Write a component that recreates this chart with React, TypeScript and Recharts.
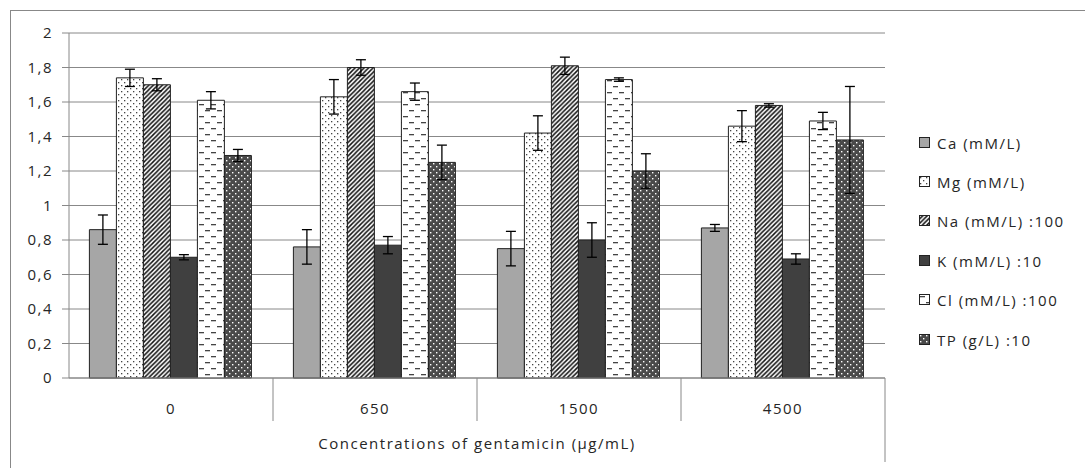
import { BarChart, Bar, XAxis, YAxis, CartesianGrid, ErrorBar } from 'recharts';

const CATEGORIES = ['0', '650', '1500', '4500'];

const CA = [0.86, 0.76, 0.75, 0.87];
const CA_ERR = [0.085, 0.1, 0.1, 0.02];
const MG = [1.74, 1.63, 1.42, 1.46];
const MG_ERR = [0.05, 0.1, 0.1, 0.09];
const NA = [1.7, 1.8, 1.81, 1.58];
const NA_ERR = [0.035, 0.045, 0.05, 0.01];
const K = [0.7, 0.77, 0.8, 0.69];
const K_ERR = [0.015, 0.05, 0.1, 0.03];
const CL = [1.61, 1.66, 1.73, 1.49];
const CL_ERR = [0.05, 0.05, 0.01, 0.05];
const TP = [1.29, 1.25, 1.2, 1.38];
const TP_ERR = [0.035, 0.1, 0.1, 0.31];

const Y_TICKS = [0, 0.2, 0.4, 0.6, 0.8, 1, 1.2, 1.4, 1.6, 1.8, 2];

const SERIES = [
  { key: 'ca', name: 'Ca (mM/L)', fill: '#a6a6a6' },
  { key: 'mg', name: 'Mg (mM/L)', fill: 'url(#pMg)' },
  { key: 'na', name: 'Na (mM/L) :100', fill: 'url(#pNa)' },
  { key: 'k', name: 'K (mM/L) :10', fill: '#404040' },
  { key: 'cl', name: 'Cl (mM/L) :100', fill: 'url(#pCl)' },
  { key: 'tp', name: 'TP (g/L) :10', fill: 'url(#pTp)' },
];

const data = CATEGORIES.map((c, i) => ({
  name: c,
  ca: CA[i], caErr: CA_ERR[i],
  mg: MG[i], mgErr: MG_ERR[i],
  na: NA[i], naErr: NA_ERR[i],
  k: K[i], kErr: K_ERR[i],
  cl: CL[i], clErr: CL_ERR[i],
  tp: TP[i], tpErr: TP_ERR[i],
}));

const FONT = '"Open Sans", sans-serif';
const FS = 15;
const LS = 1.5;
const TEXT = '#262626';
const GRID = '#888888';

// plot geometry
const W = 1085;
const H = 468;
const LEFT = 69;
const RIGHT = 885;
const TOP = 33;
const BOTTOM = 378;
const HALF_BAND = (RIGHT - LEFT) / CATEGORIES.length / 2;

function CategoryTick(props: any) {
  const { x, payload, index } = props;
  const last = index === CATEGORIES.length - 1;
  return (
    <g>
      {index > 0 && (
        <line x1={x - HALF_BAND} x2={x - HALF_BAND} y1={BOTTOM} y2={BOTTOM + 43} stroke={GRID} />
      )}
      {last && (
        <line x1={x + HALF_BAND} x2={x + HALF_BAND} y1={BOTTOM} y2={BOTTOM + 84} stroke={GRID} />
      )}
      <text
        x={x}
        y={BOTTOM + 36}
        textAnchor="middle"
        fontSize={FS}
        letterSpacing={LS}
        fill={TEXT}
        fontFamily={FONT}
      >
        {payload.value}
      </text>
    </g>
  );
}

function PatternLegend() {
  return (
    <div
      style={{
        position: 'absolute', left: 919, top: 123,
        fontFamily: FONT, fontSize: FS, letterSpacing: LS, color: TEXT,
      }}
    >
      {SERIES.map((s) => (
        <div key={s.key} style={{ display: 'flex', alignItems: 'center', height: 39.4 }}>
          <svg width={12} height={12} style={{ marginRight: 6 }}>
            <rect x={0.5} y={0.5} width={10} height={10} fill={s.fill} stroke="#222" />
          </svg>
          <span>{s.name}</span>
        </div>
      ))}
    </div>
  );
}

export default function App() {
  return (
    <div style={{ position: 'absolute', left: 0, top: 0, width: W, height: H, overflow: 'hidden', background: '#fff' }}>
      <div
        style={{
          position: 'absolute', left: 10, top: 10, width: W + 20, height: H + 20,
          borderLeft: `1px solid ${GRID}`, borderTop: `1px solid ${GRID}`,
        }}
      />
      <svg width={0} height={0} style={{ position: 'absolute' }}>
        <defs>
          <pattern id="pMg" width={6} height={6} patternUnits="userSpaceOnUse">
            <rect width={6} height={6} fill="#fff" />
            <rect x={1} y={1} width={1.3} height={1.3} fill="#444" />
            <rect x={4} y={4} width={1.3} height={1.3} fill="#444" />
          </pattern>
          <pattern id="pNa" width={4.5} height={4.5} patternUnits="userSpaceOnUse">
            <rect width={4.5} height={4.5} fill="#fff" />
            <path d="M-1,1 L1,-1 M0,4.5 L4.5,0 M3.5,5.5 L5.5,3.5" stroke="#111" strokeWidth={1.5} />
          </pattern>
          <pattern id="pCl" width={12} height={12} patternUnits="userSpaceOnUse">
            <rect width={12} height={12} fill="#fff" />
            <rect x={1} y={2} width={5} height={1.3} fill="#444" />
            <rect x={7} y={8} width={5} height={1.3} fill="#444" />
          </pattern>
          <pattern id="pTp" width={6} height={6} patternUnits="userSpaceOnUse">
            <rect width={6} height={6} fill="#4a4a4a" />
            <rect x={1} y={1} width={1.4} height={1.4} fill="#fff" />
            <rect x={4} y={4} width={1.4} height={1.4} fill="#fff" />
          </pattern>
        </defs>
      </svg>
      <div style={{ position: 'absolute', left: 0, top: 0 }}>
        <BarChart
          width={W}
          height={H}
          data={data}
          margin={{ top: TOP, right: W - RIGHT, left: 8, bottom: 0 }}
          barCategoryGap="10%"
          barGap={0}
        >
          <CartesianGrid vertical={false} stroke={GRID} strokeWidth={1} />
          <YAxis
            width={LEFT - 8}
            domain={[0, 2]}
            ticks={Y_TICKS}
            interval={0}
            tickSize={7}
            tickMargin={9}
            axisLine={{ stroke: GRID }}
            tickLine={{ stroke: GRID }}
            tickFormatter={(v: number) => String(v).replace('.', ',')}
            tick={{ fontSize: FS, fill: TEXT, fontFamily: FONT, letterSpacing: LS }}
          />
          <XAxis
            dataKey="name"
            height={H - BOTTOM}
            tickLine={false}
            axisLine={{ stroke: GRID }}
            interval={0}
            tick={<CategoryTick />}
            label={{
              value: 'Concentrations of gentamicin (µg/mL)',
              position: 'insideBottom',
              offset: 19,
              fontSize: FS,
              fill: TEXT,
              fontFamily: FONT,
              letterSpacing: LS,
            }}
          />
          {SERIES.map((s) => (
            <Bar key={s.key} dataKey={s.key} name={s.name} fill={s.fill} stroke="#222" strokeWidth={1} isAnimationActive={false}>
              <ErrorBar dataKey={`${s.key}Err`} width={5} stroke="#000" strokeWidth={1.3} direction="y" />
            </Bar>
          ))}
        </BarChart>
      </div>
      <PatternLegend />
    </div>
  );
}
